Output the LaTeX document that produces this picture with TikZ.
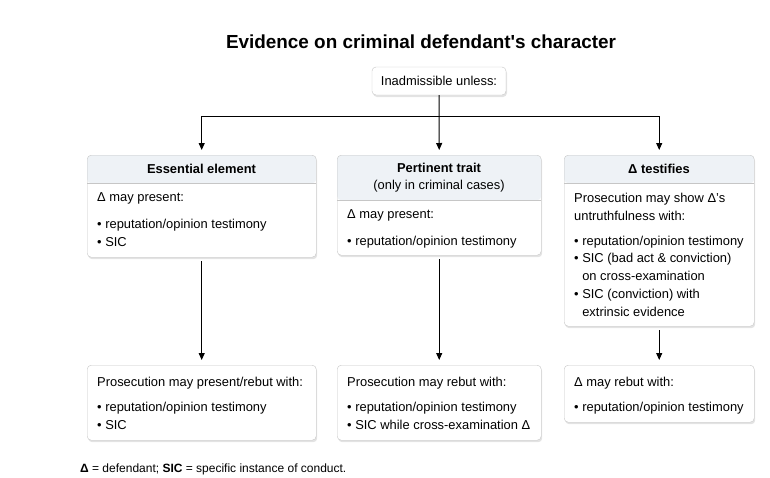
\documentclass[tikz,border=0pt]{standalone}
\usepackage{fontspec}
\setmainfont{Liberation Sans}[Ligatures=TeXOff]
\usetikzlibrary{arrows.meta,shadows}

\definecolor{cardline}{HTML}{C6C6C6}
\definecolor{headfill}{HTML}{EEF2F6}

\tikzset{
  card/.style={draw=cardline, fill=white, rounded corners=4pt, inner sep=0pt, anchor=north west,
    drop shadow={shadow xshift=1pt, shadow yshift=-2pt, opacity=0.22}},
  head/.style={path picture={
      \fill[headfill] (path picture bounding box.north west) rectangle ([yshift=-#1]path picture bounding box.north east);
      \draw[cardline] ([yshift=-#1]path picture bounding box.north west) -- ([yshift=-#1]path picture bounding box.north east);}},
  headtxt/.style={font=\bfseries\fontsize{12.9}{17}\selectfont, align=center, inner sep=0pt},
  bodytxt/.style={font=\fontsize{12.9}{17.8}\selectfont, align=left, anchor=north west, inner sep=0pt},
  link/.style={draw=black, line width=1pt, -{Triangle[length=7pt,width=6pt]}, shorten >=5pt},
}

\newcommand{\bul}{•\ }
\newcommand{\bulgap}{\phantom{•}\ }

\begin{document}
\begin{tikzpicture}[x=1pt,y=-1pt]
  \useasboundingbox (0,0) rectangle (770,477);

  \node[font=\bfseries\fontsize{18.9}{22}\selectfont] (title) at (421,42) {Evidence on criminal defendant's character};

  % top box
  \node[card, anchor=center, minimum width=134pt, minimum height=28pt, font=\fontsize{12.9}{15}\selectfont] (unless) at (439,81) {Inadmissible unless:};

  % the three exceptions
  \node[card, head=28pt, minimum width=229pt, minimum height=102pt] (ess) at (87,155) {};
  \node[card, head=45pt, minimum width=204pt, minimum height=100pt] (trait) at (337,155) {};
  \node[card, head=28pt, minimum width=190pt, minimum height=171pt] (test) at (564,155) {};

  \node[headtxt] (esshead) at (201.5,169) {Essential element};
  \node[headtxt] (traithead) at (439,177.5) {Pertinent trait\\\normalfont(only in criminal cases)};
  \node[headtxt] (testhead) at (659,169) {Δ testifies};

  \node[bodytxt] (essbody) at (97,192.5) {Δ may present:\\[9pt]\bul reputation/opinion testimony\\\bul SIC};
  \node[bodytxt] (traitbody) at (347,209.5) {Δ may present:\\[9pt]\bul reputation/opinion testimony};
  \node[bodytxt] (testbody) at (574,193) {Prosecution may show Δ’s\\untruthfulness with:\\[7pt]\bul reputation/opinion testimony\\\bul SIC (bad act \& conviction)\\\bulgap on cross-examination\\\bul SIC (conviction) with\\\bulgap extrinsic evidence};

  % rebuttal boxes
  \node[card, minimum width=229pt, minimum height=75pt] (essreb) at (87,365) {};
  \node[card, minimum width=204pt, minimum height=75pt] (traitreb) at (337,365) {};
  \node[card, minimum width=190pt, minimum height=57pt] (testreb) at (564,365) {};

  \node[bodytxt] (essrebbody) at (97,376.5) {Prosecution may present/rebut with:\\[8pt]\bul reputation/opinion testimony\\\bul SIC};
  \node[bodytxt] (traitrebbody) at (347,376.5) {Prosecution may rebut with:\\[8pt]\bul reputation/opinion testimony\\\bul SIC while cross-examination Δ};
  \node[bodytxt] (testrebbody) at (574,376.5) {Δ may rebut with:\\[8pt]\bul reputation/opinion testimony};

  % connectors
  \coordinate (split) at (439,116);
  \draw[link] (unless.south) -- (trait.north);
  \draw[link] (split) -| (ess.north);
  \draw[link] (split) -| (test.north);
  \draw[link, shorten <=4pt] (ess.south) -- (essreb.north);
  \draw[link, shorten <=4pt] (trait.south) -- (traitreb.north);
  \draw[link, shorten <=4pt] (test.south) -- (testreb.north);

  \node[anchor=west, inner sep=0pt, font=\fontsize{12}{14}\selectfont] (note) at (80,469) {\textbf{Δ} = defendant; \textbf{SIC} = specific instance of conduct.};
\end{tikzpicture}
\end{document}
